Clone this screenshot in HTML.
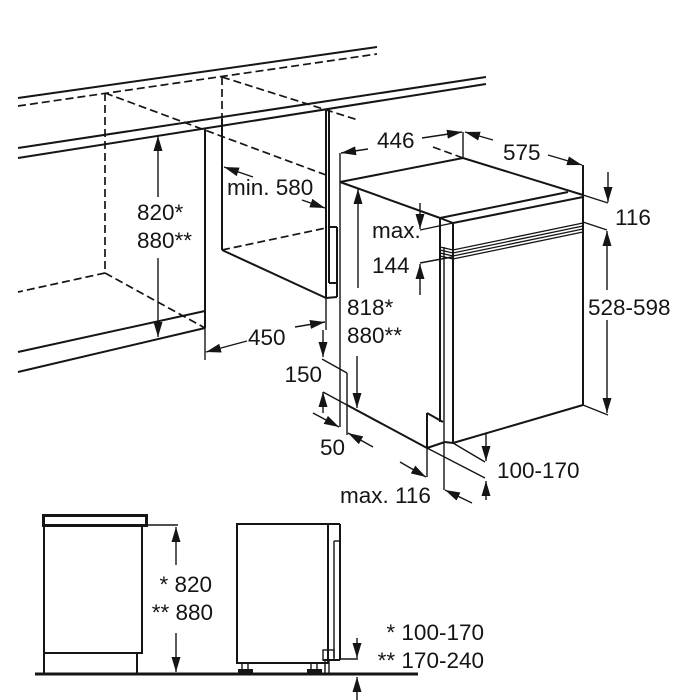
<!DOCTYPE html>
<html>
<head>
<meta charset="utf-8">
<style>
  html,body{margin:0;padding:0;background:#fff;}
  svg{display:block;}
  text{font-family:"Liberation Sans",Arial,sans-serif;font-size:22.5px;fill:#151515;}
</style>
</head>
<body>
<svg width="686" height="700" viewBox="0 0 686 700" xmlns="http://www.w3.org/2000/svg">
<defs>
  <marker id="a" viewBox="0 0 15 9" markerWidth="15" markerHeight="9" refX="15" refY="4.5" orient="auto" markerUnits="userSpaceOnUse">
    <path d="M0,0L15,4.5L0,9z" fill="#151515"/>
  </marker>
</defs>
<rect width="686" height="700" fill="#fff"/>

<!-- ===== TOP DRAWING ===== -->
<g stroke="#151515" fill="none" stroke-width="2">
  <line x1="18" y1="98" x2="377" y2="47"/>
  <line x1="18" y1="148" x2="486" y2="77"/>
  <line x1="18" y1="158" x2="486" y2="84"/>
  <line x1="18" y1="352" x2="205" y2="311"/>
  <line x1="18" y1="372" x2="205" y2="328"/>
  <line x1="205" y1="128" x2="205" y2="328"/>
  <line x1="222" y1="119" x2="222" y2="250"/>
  <line x1="222" y1="250" x2="326" y2="298"/>
  <line x1="326" y1="109" x2="326" y2="298"/>
  <line x1="329" y1="108" x2="329" y2="283"/>
  <line x1="329" y1="283" x2="337" y2="283"/>
  <line x1="337" y1="227" x2="337" y2="297"/>
  <line x1="326" y1="298" x2="337" y2="297"/>
  <line x1="329" y1="227" x2="337" y2="227"/>
</g>
<g stroke="#151515" fill="none" stroke-width="1.7" stroke-dasharray="8 4">
  <line x1="18" y1="106" x2="377" y2="54"/>
  <line x1="105" y1="93" x2="105" y2="273"/>
  <line x1="105" y1="93" x2="326" y2="175"/>
  <line x1="105" y1="273" x2="18" y2="292"/>
  <line x1="105" y1="273" x2="205" y2="328"/>
  <line x1="222" y1="77" x2="222" y2="119"/>
  <line x1="222" y1="77" x2="358" y2="120"/>
  <line x1="433" y1="147" x2="463" y2="158"/>
  <line x1="222" y1="250" x2="326" y2="228"/>
</g>

<!-- dishwasher body -->
<g stroke="#151515" fill="none" stroke-width="2">
  <line x1="340" y1="182" x2="463" y2="158"/>
  <line x1="463" y1="158" x2="583" y2="195"/>
  <line x1="340" y1="182" x2="440" y2="218"/>
  <line x1="440" y1="218" x2="568" y2="192"/>
  <line x1="440" y1="218" x2="453" y2="223"/>
  <line x1="453" y1="223" x2="583" y2="197"/>
  <line x1="440" y1="218" x2="440" y2="422"/>
  <line x1="453" y1="223" x2="453" y2="443"/>
  <line x1="583" y1="165" x2="583" y2="405"/>
  <line x1="453" y1="443" x2="583" y2="405"/>
  <line x1="347" y1="405" x2="427" y2="448"/>
  <line x1="427" y1="448" x2="445" y2="442"/>
  <line x1="445" y1="442" x2="453" y2="443"/>
  <line x1="427" y1="413" x2="443" y2="422"/>
  <line x1="427" y1="413" x2="427" y2="448"/>
</g>
<g stroke="#151515" fill="none" stroke-width="1.3">
  <polyline points="440,247 453,250 583,223"/>
  <polyline points="440,250 453,253 583,226"/>
  <polyline points="440,253 453,256 583,229"/>
  <polyline points="440,256 453,259 583,232"/>
</g>

<!-- thin extension lines -->
<g stroke="#151515" fill="none" stroke-width="1.4">
  <line x1="205" y1="328" x2="205" y2="360"/>
  <line x1="326" y1="298" x2="326" y2="330"/>
  <line x1="340" y1="153" x2="340" y2="427"/>
  <line x1="463" y1="132" x2="463" y2="158"/>
  <line x1="583" y1="195" x2="608" y2="203"/>
  <line x1="583" y1="222" x2="607" y2="230"/>
  <line x1="583" y1="405" x2="608" y2="415"/>
  <line x1="444" y1="247" x2="444" y2="490"/>
  <line x1="427" y1="448" x2="427" y2="477"/>
  <line x1="427" y1="448" x2="485" y2="478"/>
  <line x1="453" y1="443" x2="485" y2="462"/>
  <line x1="323" y1="392" x2="347" y2="405"/>
  <line x1="322" y1="359" x2="347" y2="373"/>
  <line x1="347" y1="373" x2="347" y2="435"/>
  <line x1="420" y1="230" x2="453" y2="223"/>
  <line x1="420" y1="263" x2="452" y2="257"/>
</g>

<!-- arrows -->
<g stroke="#151515" fill="none" stroke-width="1.4" marker-end="url(#a)">
  <line x1="158" y1="197" x2="158" y2="136"/>
  <line x1="158" y1="258" x2="158" y2="337"/>
  <line x1="253" y1="177" x2="224" y2="167"/>
  <line x1="302" y1="200" x2="325" y2="208"/>
  <line x1="247" y1="341" x2="206" y2="352"/>
  <line x1="295" y1="327" x2="325" y2="322"/>
  <line x1="323" y1="330" x2="323" y2="357"/>
  <line x1="323" y1="413" x2="323" y2="392"/>
  <line x1="313" y1="413" x2="339" y2="427"/>
  <line x1="373" y1="447" x2="348" y2="433"/>
  <line x1="368" y1="149" x2="341" y2="153"/>
  <line x1="422" y1="138" x2="462" y2="132"/>
  <line x1="493" y1="140" x2="465" y2="132"/>
  <line x1="548" y1="155" x2="582" y2="165"/>
  <line x1="608" y1="172" x2="608" y2="202"/>
  <line x1="607" y1="290" x2="607" y2="231"/>
  <line x1="607" y1="320" x2="607" y2="413"/>
  <line x1="420" y1="203" x2="420" y2="229"/>
  <line x1="420" y1="295" x2="420" y2="264"/>
  <line x1="358" y1="288" x2="358" y2="189"/>
  <line x1="357" y1="356" x2="357" y2="408"/>
  <line x1="400" y1="462" x2="426" y2="477"/>
  <line x1="472" y1="503" x2="445" y2="490"/>
  <line x1="486" y1="433" x2="486" y2="461"/>
  <line x1="486" y1="500" x2="486" y2="481"/>
</g>

<!-- labels top -->
<text x="137" y="220">820*</text>
<text x="137" y="248">880**</text>
<text x="227" y="195">min. 580</text>
<text x="248" y="345">450</text>
<text x="322" y="382" text-anchor="end">150</text>
<text x="320" y="455">50</text>
<text x="377" y="148">446</text>
<text x="503" y="160">575</text>
<text x="615" y="225">116</text>
<text x="588" y="315">528-598</text>
<text x="372" y="238">max.</text>
<text x="372" y="273">144</text>
<text x="347" y="315">818*</text>
<text x="347" y="343">880**</text>
<text x="340" y="503">max. 116</text>
<text x="497" y="478">100-170</text>

<!-- ===== BOTTOM DRAWINGS ===== -->
<line x1="35" y1="674" x2="418" y2="674" stroke="#151515" stroke-width="3"/>
<rect x="43.5" y="515.5" width="103" height="10" fill="none" stroke="#151515" stroke-width="3"/>
<g stroke="#151515" fill="none" stroke-width="2">
  <line x1="44" y1="526" x2="44" y2="674"/>
  <line x1="142" y1="526" x2="142" y2="654"/>
  <line x1="44" y1="653" x2="142" y2="653"/>
  <line x1="137" y1="653" x2="137" y2="673"/>
</g>
<line x1="148" y1="525" x2="178" y2="525" stroke="#151515" stroke-width="1.4"/>
<g stroke="#151515" fill="none" stroke-width="1.4" marker-end="url(#a)">
  <line x1="176" y1="565" x2="176" y2="527"/>
  <line x1="176" y1="633" x2="176" y2="672"/>
  <line x1="357" y1="638" x2="357" y2="658"/>
  <line x1="357" y1="700" x2="357" y2="677"/>
</g>
<text x="212" y="592" text-anchor="end">* 820</text>
<text x="213" y="620" text-anchor="end">** 880</text>

<g stroke="#151515" fill="none" stroke-width="2">
  <rect x="237" y="524" width="91" height="139"/>
  <line x1="328" y1="524" x2="340" y2="524"/>
  <line x1="340" y1="524" x2="340" y2="660"/>
  <line x1="323" y1="660" x2="340" y2="660"/>
</g>
<g stroke="#151515" fill="none" stroke-width="1.4">
  <line x1="334" y1="541" x2="334" y2="658"/>
  <line x1="334" y1="541" x2="340" y2="541"/>
  <rect x="323" y="650" width="11" height="10"/>
  <line x1="242" y1="663" x2="242" y2="671"/>
  <line x1="248" y1="663" x2="248" y2="671"/>
  <line x1="311" y1="663" x2="311" y2="671"/>
  <line x1="317" y1="663" x2="317" y2="671"/>
  <line x1="325" y1="660" x2="325" y2="673"/>
  <line x1="329" y1="660" x2="329" y2="673"/>
  <line x1="340" y1="659" x2="358" y2="659"/>
</g>
<rect x="238" y="669" width="15" height="4" fill="#151515"/>
<rect x="307" y="669" width="15" height="4" fill="#151515"/>
<text x="484" y="640" text-anchor="end">* 100-170</text>
<text x="484" y="668" text-anchor="end">** 170-240</text>
</svg>
</body>
</html>
